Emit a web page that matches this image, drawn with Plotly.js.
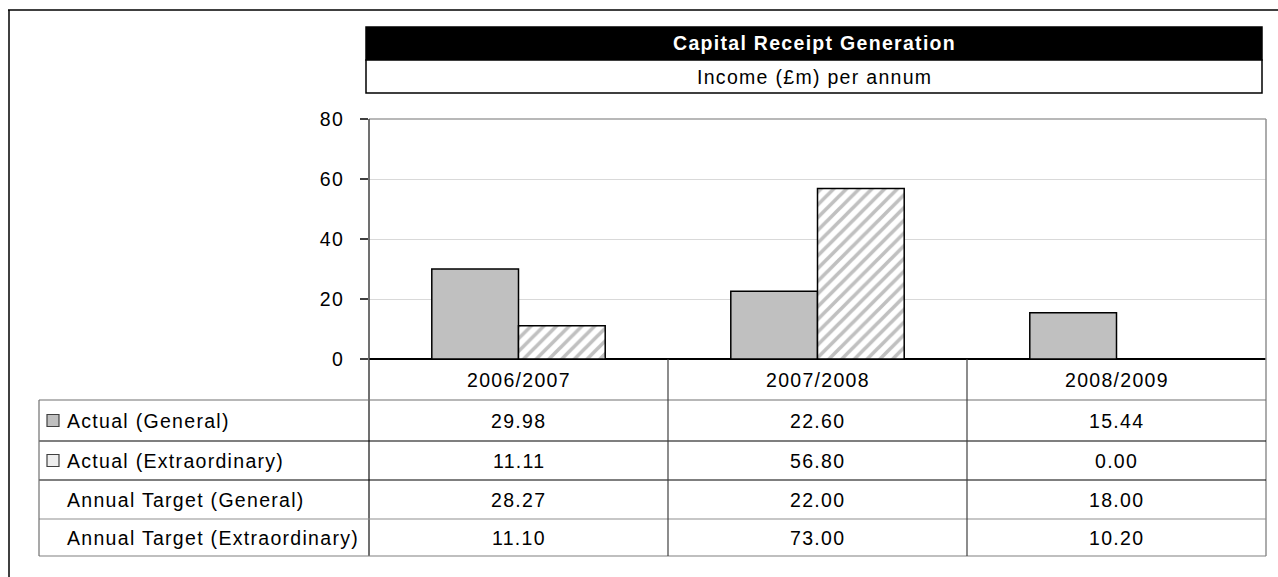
<!DOCTYPE html>
<html>
<head>
<meta charset="utf-8">
<script src="https://cdn.plot.ly/plotly-3.0.1.min.js"></script>
<style>
html, body { margin: 0; padding: 0; background: #ffffff; }
#chart { width: 1278px; height: 577px; }
text { letter-spacing: 1.3px; }
</style>
</head>
<body>
<div id="chart"></div>
<script>
// ---- data ----
const categories = ['2006/2007', '2007/2008', '2008/2009'];
const actualGeneral = [29.98, 22.60, 15.44];
const actualExtra = [11.11, 56.80, 0.00];
const targetGeneral = [28.27, 22.00, 18.00];
const targetExtra = [11.10, 73.00, 10.20];
const rowLabels = ['Actual (General)', 'Actual (Extraordinary)', 'Annual Target (General)', 'Annual Target (Extraordinary)'];
const yTicks = [0, 20, 40, 60, 80];
const chartTitle = 'Capital Receipt Generation';
const chartSubtitle = 'Income (£m) per annum';

// ---- layout helpers (pixel -> paper) ----
const W = 1278, H = 577;
const L = 369, R = 1266, T = 119, B = 359;
const px = x => (x - L) / (R - L);
const py = y => (B - y) / (B - T);
const FONT = 'Liberation Sans, Arial, sans-serif';
const FS = 19.5;

const rows = [actualGeneral, actualExtra, targetGeneral, targetExtra];
const headerCenter = 380;
const rowCenters = [420.5, 460.5, 499.5, 537.5];

const traces = [
  {
    type: 'bar', name: rowLabels[0], x: categories, y: actualGeneral,
    marker: { color: '#c0c0c0', line: { color: '#000000', width: 1.5 } },
    hoverinfo: 'skip'
  },
  {
    type: 'bar', name: rowLabels[1], x: categories, y: actualExtra,
    marker: {
      color: '#ffffff', line: { color: '#000000', width: 1.5 },
      pattern: { shape: '/', fgcolor: '#c0c0c0', bgcolor: '#ffffff', size: 9, solidity: 0.4, fillmode: 'replace' }
    },
    hoverinfo: 'skip'
  }
];

const shapes = [];
const annotations = [];

// outer frame (top and left)
shapes.push({ type: 'line', xref: 'paper', yref: 'paper', x0: px(8), x1: px(1278), y0: py(10), y1: py(10), line: { color: '#000000', width: 1.5 } });
shapes.push({ type: 'line', xref: 'paper', yref: 'paper', x0: px(9), x1: px(9), y0: py(10), y1: py(577), line: { color: '#000000', width: 1.5 } });

// title boxes
shapes.push({ type: 'rect', xref: 'paper', yref: 'paper', x0: px(366), x1: px(1262), y0: py(27), y1: py(60), fillcolor: '#000000', line: { color: '#000000', width: 1.5 } });
shapes.push({ type: 'rect', xref: 'paper', yref: 'paper', x0: px(366), x1: px(1262), y0: py(60), y1: py(93), fillcolor: '#ffffff', line: { color: '#000000', width: 1.5 } });
annotations.push({ xref: 'paper', yref: 'paper', x: px(814), y: py(43.5), xanchor: 'center', yanchor: 'middle', text: '<b>' + chartTitle + '</b>', showarrow: false, font: { family: FONT, size: FS, color: '#ffffff' } });
annotations.push({ xref: 'paper', yref: 'paper', x: px(814), y: py(76.5), xanchor: 'center', yanchor: 'middle', text: chartSubtitle, showarrow: false, font: { family: FONT, size: FS, color: '#000000' } });

// plot frame (top & right gray)
shapes.push({ type: 'line', xref: 'paper', yref: 'paper', x0: 0, x1: 1, y0: 1, y1: 1, line: { color: '#a0a0a0', width: 1.5 } });
shapes.push({ type: 'line', xref: 'paper', yref: 'paper', x0: 1, x1: 1, y0: 1, y1: py(556), line: { color: '#909090', width: 1.5 } });
// left axis line extending through table
shapes.push({ type: 'line', xref: 'paper', yref: 'paper', x0: 0, x1: 0, y0: 1, y1: py(556), line: { color: '#404040', width: 1.5 } });

// table grid
const hLines = [
  { y: 400, c: '#707070' },
  { y: 441, c: '#000000' },
  { y: 480, c: '#000000' },
  { y: 519, c: '#909090' },
  { y: 556, c: '#808080' }
];
hLines.forEach(h => shapes.push({ type: 'line', xref: 'paper', yref: 'paper', x0: px(39), x1: 1, y0: py(h.y), y1: py(h.y), line: { color: h.c, width: 1.2 } }));
shapes.push({ type: 'line', xref: 'paper', yref: 'paper', x0: px(39), x1: px(39), y0: py(400), y1: py(556), line: { color: '#707070', width: 1.2 } });
for (let i = 1; i < categories.length; i++) {
  shapes.push({ type: 'line', xref: 'x', yref: 'paper', x0: i - 0.5, x1: i - 0.5, y0: 0, y1: py(556), line: { color: '#404040', width: 1.2 } });
}

// header labels
categories.forEach(c => annotations.push({ xref: 'x', yref: 'paper', x: c, y: py(headerCenter), xanchor: 'center', yanchor: 'middle', text: c, showarrow: false, font: { family: FONT, size: FS, color: '#000000' } }));

// row labels, icons and values
rowLabels.forEach((lab, r) => {
  annotations.push({ xref: 'paper', yref: 'paper', x: px(65), y: py(rowCenters[r]), xanchor: 'left', yanchor: 'middle', text: lab, showarrow: false, font: { family: FONT, size: FS, color: '#000000' } });
  rows[r].forEach((v, j) => annotations.push({ xref: 'x', yref: 'paper', x: categories[j], y: py(rowCenters[r]), xanchor: 'center', yanchor: 'middle', text: v.toFixed(2), showarrow: false, font: { family: FONT, size: FS, color: '#000000' } }));
});
shapes.push({ type: 'rect', xref: 'paper', yref: 'paper', x0: px(47), x1: px(59), y0: py(rowCenters[0] - 6), y1: py(rowCenters[0] + 6), fillcolor: '#c0c0c0', line: { color: '#404040', width: 1.2 } });
shapes.push({ type: 'rect', xref: 'paper', yref: 'paper', x0: px(47), x1: px(59), y0: py(rowCenters[1] - 6), y1: py(rowCenters[1] + 6), fillcolor: '#eeeeee', line: { color: '#404040', width: 1.2 } });

const layout = {
  width: W, height: H,
  margin: { l: L, r: W - R, t: T, b: H - B, pad: 0 },
  paper_bgcolor: '#ffffff', plot_bgcolor: '#ffffff',
  showlegend: false,
  barmode: 'group', bargap: 0.42, bargroupgap: 0,
  font: { family: FONT, size: FS, color: '#000000' },
  xaxis: {
    type: 'category', showticklabels: false, ticks: '', showgrid: false, showline: false, zeroline: false,
    range: [-0.5, categories.length - 0.5], fixedrange: true
  },
  yaxis: {
    range: [0, 80], tickvals: yTicks, ticktext: yTicks.map(String),
    ticks: 'outside', ticklen: 8, tickwidth: 1.2, tickcolor: '#404040',
    ticklabelstandoff: 12,
    showgrid: true, gridcolor: '#d9d9d9', gridwidth: 1,
    zeroline: true, zerolinecolor: '#000000', zerolinewidth: 2,
    showline: false, tickfont: { family: FONT, size: FS, color: '#000000' }, fixedrange: true
  },
  shapes: shapes,
  annotations: annotations
};

Plotly.newPlot('chart', traces, layout, { displayModeBar: false, staticPlot: true });
</script>
</body>
</html>
